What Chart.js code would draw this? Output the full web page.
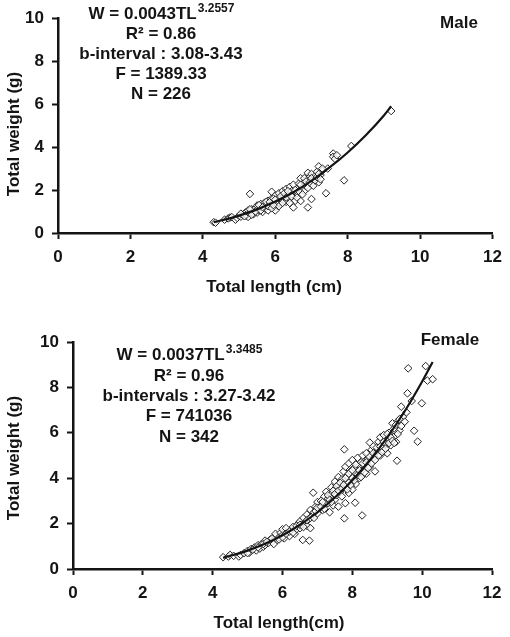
<!DOCTYPE html>
<html>
    <head>
        <title>length-weight</title>
        <meta charset="UTF-8">
        <script src="https://cdn.jsdelivr.net/npm/chart.js"></script>
        <style>
            body {margin: 0; background: #fff;}
            .panel {position: absolute; left: 0;}
        </style>
    </head>
    <body>
        <div class="panel" style="top:0px"><canvas id="maleChart" width="510" height="300"></canvas></div>
        <div class="panel" style="top:310px"><canvas id="femaleChart" width="510" height="327"></canvas></div>
    </body>
    <script>
      // Male scatter (total length cm / total weight g)
      const maleLen = [4.3, 4.35, 4.6, 4.7, 4.75, 4.8, 4.9, 4.95, 5.0, 5.05, 5.1, 5.15, 5.2, 5.2, 5.25, 5.25, 5.3, 5.3, 5.35, 5.4,
        5.4, 5.45, 5.5, 5.5, 5.55, 5.6, 5.6, 5.65, 5.7, 5.7, 5.75, 5.8, 5.8, 5.85, 5.9, 5.9, 5.95, 6.0, 6.0, 6.0,
        6.05, 6.1, 6.1, 6.15, 6.2, 6.2, 6.25, 6.3, 6.3, 6.35, 6.4, 6.4, 6.45, 6.5, 6.5, 6.5, 6.55, 6.6, 6.6, 6.65,
        6.7, 6.7, 6.75, 6.8, 6.8, 6.85, 6.9, 6.9, 6.9, 6.95, 7.0, 7.0, 7.0, 7.05, 7.1, 7.15, 7.2, 7.2, 7.25, 7.3,
        7.4, 7.45, 7.6, 7.6, 7.65, 7.7, 7.9, 8.1, 9.2,
        5.05, 5.15, 5.3, 5.35, 5.45, 5.55, 5.6, 5.65, 5.75, 5.8, 5.85, 5.9, 5.95, 6.05, 6.1, 6.15, 6.2, 6.25, 6.3, 6.35,
        6.4, 6.45, 6.55, 6.6, 6.65, 6.7, 6.75, 6.8, 6.85, 6.9, 6.95, 7.0, 7.05, 7.1, 7.15, 7.2, 7.25, 7.3, 5.95, 6.0];
      const maleWt = [0.50, 0.48, 0.62, 0.68, 0.72, 0.74, 0.62, 0.70, 0.80, 0.76, 0.85, 0.92, 0.98, 0.80, 1.05, 0.75, 1.82, 0.95, 1.10, 0.88,
        1.00, 1.15, 1.28, 0.95, 1.05, 1.20, 1.35, 0.98, 1.40, 1.15, 1.30, 1.50, 1.05, 1.25, 1.60, 1.92, 1.40, 1.75, 1.20, 1.05,
        1.50, 1.65, 1.85, 1.35, 1.95, 1.55, 1.70, 2.05, 1.45, 1.80, 2.15, 1.60, 1.95, 2.25, 1.19, 1.75, 1.50, 2.05, 1.85, 2.30,
        2.55, 1.49, 2.10, 2.35, 1.95, 2.20, 2.80, 1.19, 2.45, 2.60, 2.75, 1.58, 2.30, 2.50, 2.65, 2.85, 3.10, 2.36, 2.70, 2.90,
        1.85, 3.00, 3.70, 3.55, 3.45, 3.62, 2.45, 4.05, 5.68,
        0.90, 0.78, 1.10, 0.85, 1.00, 1.30, 1.05, 1.20, 1.45, 1.25, 1.45, 1.15, 1.60, 1.35, 1.25, 1.70, 1.40, 1.85, 1.65, 1.95,
        1.40, 1.70, 2.00, 1.65, 1.95, 2.25, 1.80, 2.55, 2.40, 2.10, 2.35, 2.55, 2.20, 2.45, 2.60, 2.75, 2.50, 3.00, 1.30, 1.55];
      // Male fitted curve W = 0.0043TL^3.2557
      const maleFitLen = [4.3, 4.5, 5.0, 5.5, 6.0, 6.5, 7.0, 7.5, 8.0, 8.5, 9.0, 9.2];
      const maleFitWt = [0.50, 0.58, 0.81, 1.10, 1.47, 1.90, 2.43, 3.05, 3.75, 4.55, 5.47, 5.90];

      // Female scatter
      const femaleLen = [4.3, 4.45, 4.5, 4.6, 4.75, 4.8, 4.9, 5.0, 5.05, 5.1, 5.2, 5.25, 5.3, 5.35, 5.4, 5.45, 5.5, 5.5, 5.6, 5.65,
        5.7, 5.75, 5.8, 5.8, 5.85, 5.9, 5.95, 6.0, 6.0, 6.05, 6.1, 6.15, 6.2, 6.25, 6.3, 6.35, 6.4, 6.45, 6.5, 6.5,
        6.55, 6.58, 6.6, 6.65, 6.7, 6.7, 6.75, 6.77, 6.8, 6.8, 6.85, 6.88, 6.9, 6.95, 7.0, 7.0, 7.05, 7.1, 7.15, 7.2,
        7.2, 7.25, 7.3, 7.3, 7.35, 7.4, 7.4, 7.45, 7.5, 7.5, 7.5, 7.55, 7.6, 7.6, 7.6, 7.65, 7.7, 7.7, 7.75, 7.77,
        7.77, 7.8, 7.8, 7.8, 7.85, 7.9, 7.9, 7.9, 7.95, 8.0, 8.0, 8.0, 8.05, 8.08, 8.1, 8.1, 8.15, 8.2, 8.2, 8.25,
        8.28, 8.3, 8.3, 8.35, 8.4, 8.4, 8.45, 8.5, 8.5, 8.55, 8.6, 8.6, 8.65, 8.7, 8.75, 8.8, 8.8, 8.85, 8.9, 8.9,
        8.95, 9.0, 9.0, 9.05, 9.1, 9.15, 9.2, 9.2, 9.25, 9.28, 9.3, 9.35, 9.4, 9.45, 9.5, 9.55, 9.58, 9.6, 9.7, 9.77,
        9.87, 9.99, 10.1, 10.15, 10.3,
        5.0, 5.15, 5.3, 5.45, 5.55, 5.7, 5.9, 6.0, 6.1, 6.2, 6.3, 6.4, 6.5, 6.6, 6.7, 6.8, 6.9, 6.95, 7.0, 7.1,
        7.15, 7.2, 7.3, 7.35, 7.4, 7.45, 7.5, 7.55, 7.6, 7.65, 7.7, 7.75, 7.8, 7.85, 7.9, 7.95, 8.0, 8.05, 8.1, 8.15,
        8.2, 8.25, 8.3, 8.35, 8.4, 8.45, 8.5, 8.55, 8.6, 8.65, 8.7, 8.75, 8.8, 8.85, 8.9, 8.95, 9.0, 9.05, 9.1, 9.15,
        9.2, 9.25, 9.3, 9.35, 9.4];
      const femaleWt = [0.52, 0.55, 0.62, 0.58, 0.55, 0.62, 0.70, 0.80, 0.72, 0.88, 0.95, 0.82, 1.05, 0.90, 1.10, 0.98, 1.25, 1.05, 1.15, 1.30,
        1.20, 1.10, 1.45, 1.55, 1.28, 1.40, 1.60, 1.50, 1.75, 1.35, 1.80, 1.60, 1.45, 1.70, 1.85, 1.55, 1.75, 2.00, 2.10, 1.80,
        1.95, 1.28, 2.25, 2.05, 2.40, 1.90, 2.20, 1.25, 2.60, 1.80, 2.35, 3.36, 2.50, 2.75, 2.95, 2.45, 2.70, 3.00, 2.60, 3.20,
        2.85, 3.40, 2.90, 3.10, 2.50, 3.30, 3.60, 2.80, 3.50, 3.85, 3.05, 3.25, 4.05, 3.70, 2.75, 3.40, 3.95, 3.20, 4.30, 5.27,
        2.23, 3.60, 4.50, 2.90, 4.10, 3.80, 4.65, 3.35, 4.30, 4.00, 4.80, 3.50, 4.45, 2.92, 4.20, 3.75, 4.90, 4.55, 4.00, 4.70,
        2.36, 4.35, 5.00, 4.60, 4.20, 5.10, 4.85, 5.57, 4.50, 5.25, 4.90, 5.40, 4.30, 5.10, 5.60, 5.00, 5.80, 5.35, 5.90, 5.20,
        5.50, 5.70, 5.10, 6.00, 5.45, 6.42, 5.83, 6.20, 5.60, 4.77, 6.50, 6.10, 7.15, 6.70, 6.49, 6.90, 7.74, 8.84, 7.40, 6.09,
        5.61, 7.30, 8.94, 8.30, 8.36,
        0.70, 0.85, 0.95, 1.10, 1.20, 1.35, 1.30, 1.40, 1.55, 1.65, 1.60, 1.90, 1.95, 1.85, 2.15, 2.25, 2.25, 2.55, 2.70, 2.75,
        2.95, 2.65, 3.25, 3.05, 2.95, 3.45, 3.30, 3.65, 3.45, 3.80, 3.55, 3.70, 4.00, 3.50, 4.20, 3.70, 4.35, 3.90, 4.60, 4.15,
        4.35, 4.05, 4.65, 4.25, 4.70, 4.45, 4.95, 4.65, 5.10, 4.80, 5.35, 5.00, 5.40, 5.15, 5.60, 5.30, 5.95, 5.55, 5.80, 5.65,
        5.55, 6.35, 5.95, 6.60, 6.30];
      // Female fitted curve W = 0.0037TL^3.3485
      const femaleFitLen = [4.3, 5.0, 5.5, 6.0, 6.5, 7.0, 7.5, 8.0, 8.5, 9.0, 9.5, 10.0, 10.3];
      const femaleFitWt = [0.49, 0.81, 1.11, 1.49, 1.95, 2.50, 3.15, 3.91, 4.79, 5.80, 6.95, 8.26, 9.12];

      const xTicks = [0, 2, 4, 6, 8, 10, 12];
      const yTicks = [0, 2, 4, 6, 8, 10];

      const FONT = '"Liberation Sans", Arial, sans-serif';
      const INK = '#141414';

      // draws the stat notes, panel label and axis titles (with superscripts)
      const notesPlugin = {
        id: 'notes',
        afterDraw(chart, args, opts) {
          const ctx = chart.ctx;
          ctx.save();
          ctx.fillStyle = INK;
          ctx.textBaseline = 'middle';
          (opts.items || []).forEach(it => {
            const size = it.size || 17;
            const mainFont = 'bold ' + size + 'px ' + FONT;
            const supFont = 'bold 12px ' + FONT;
            ctx.font = mainFont;
            const w1 = ctx.measureText(it.text).width;
            let w2 = 0;
            if (it.sup) { ctx.font = supFont; w2 = ctx.measureText(it.sup).width; }
            ctx.save();
            ctx.translate(it.x, it.y);
            if (it.rotate) ctx.rotate(-Math.PI / 2);
            ctx.textAlign = 'left';
            ctx.font = mainFont;
            ctx.fillText(it.text, -(w1 + w2) / 2, 0);
            if (it.sup) {
              ctx.font = supFont;
              ctx.fillText(it.sup, -(w1 + w2) / 2 + w1 + 1, -5);
            }
            ctx.restore();
          });
          ctx.restore();
        }
      };

      function makeChart(id, len, wt, fitLen, fitWt, yAxisW, xAxisH, pad, items) {
        const pts = len.map((x, i) => ({ x: x, y: wt[i] }));
        const fit = fitLen.map((x, i) => ({ x: x, y: fitWt[i] }));
        const tickFont = { family: FONT, size: 17, weight: 'bold' };
        return new Chart(document.getElementById(id).getContext('2d'), {
          type: 'scatter',
          data: {
            datasets: [
              {
                data: fit,
                showLine: true,
                borderColor: INK,
                borderWidth: 2.2,
                pointRadius: 0,
                cubicInterpolationMode: 'monotone',
                order: 0
              },
              {
                data: pts,
                pointStyle: 'rectRot',
                pointRadius: 3.8,
                pointBackgroundColor: 'rgba(255,255,255,0.8)',
                pointBorderColor: '#222',
                pointBorderWidth: 1,
                order: 1
              }
            ]
          },
          options: {
            responsive: false,
            animation: false,
            layout: { padding: pad },
            plugins: {
              legend: { display: false },
              tooltip: { enabled: false },
              notes: { items: items }
            },
            scales: {
              x: {
                type: 'linear',
                min: 0, max: 12,
                afterFit: a => { a.height = xAxisH; },
                afterBuildTicks: a => { a.ticks = xTicks.map(v => ({ value: v })); },
                ticks: { color: INK, font: tickFont, padding: 8, maxRotation: 0 },
                grid: { drawOnChartArea: false, drawTicks: true, tickLength: 6, tickColor: INK, tickWidth: 2 },
                border: { display: true, color: INK, width: 2.5 }
              },
              y: {
                type: 'linear',
                min: 0, max: 10,
                afterFit: a => { a.width = yAxisW; },
                afterBuildTicks: a => { a.ticks = yTicks.map(v => ({ value: v })); },
                ticks: { color: INK, font: tickFont, padding: 8 },
                grid: { drawOnChartArea: false, drawTicks: true, tickLength: 6, tickColor: INK, tickWidth: 2 },
                border: { display: true, color: INK, width: 2.5 }
              }
            }
          },
          plugins: [notesPlugin]
        });
      }

      makeChart('maleChart', maleLen, maleWt, maleFitLen, maleFitWt, 58, 67,
        { top: 11, right: 13, left: 0, bottom: 0 },
        [
          { text: 'W = 0.0043TL', sup: '3.2557', x: 161, y: 14 },
          { text: 'R² = 0.86', x: 161, y: 34 },
          { text: 'b-interval : 3.08-3.43', x: 161, y: 54 },
          { text: 'F = 1389.33', x: 161, y: 74 },
          { text: 'N = 226', x: 161, y: 94 },
          { text: 'Male', x: 459, y: 23 },
          { text: 'Total length (cm)', x: 274, y: 287 },
          { text: 'Total weight (g)', x: 14, y: 134, rotate: true }
        ]);

      makeChart('femaleChart', femaleLen, femaleWt, femaleFitLen, femaleFitWt, 73, 68,
        { top: 32, right: 18, left: 0, bottom: 0 },
        [
          { text: 'W = 0.0037TL', sup: '3.3485', x: 189, y: 45 },
          { text: 'R² = 0.96', x: 189, y: 66 },
          { text: 'b-intervals : 3.27-3.42', x: 189, y: 86 },
          { text: 'F = 741036', x: 189, y: 106 },
          { text: 'N = 342', x: 189, y: 127 },
          { text: 'Female', x: 450, y: 30 },
          { text: 'Total length(cm)', x: 279, y: 313 },
          { text: 'Total weight (g)', x: 14, y: 148, rotate: true }
        ]);
    </script>
</html>
